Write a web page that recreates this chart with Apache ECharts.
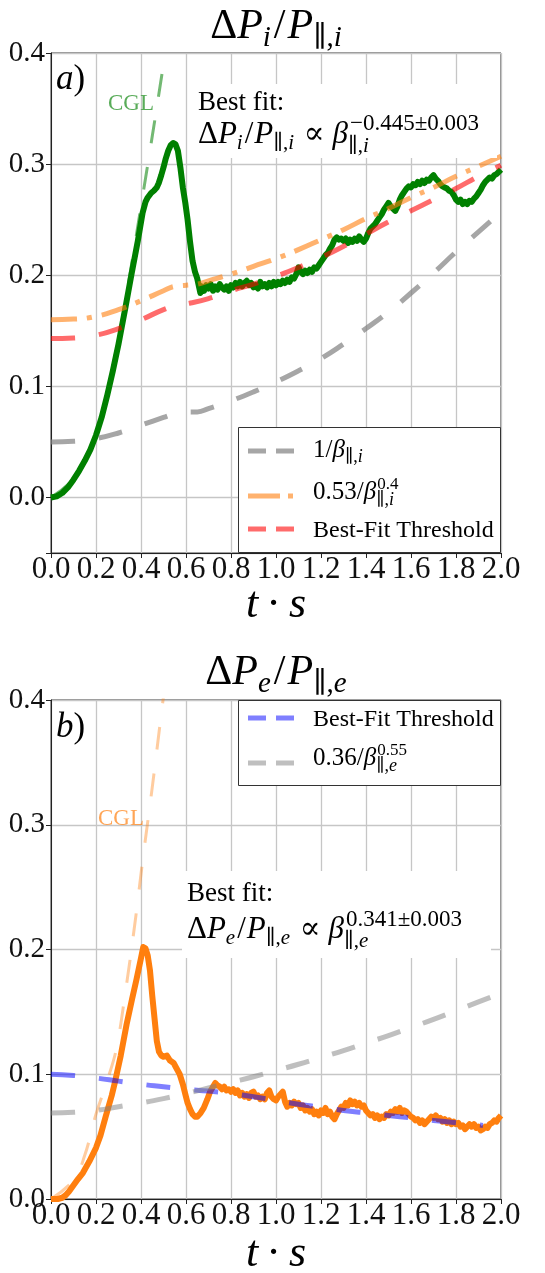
<!DOCTYPE html>
<html>
<head>
<meta charset="utf-8">
<script src="https://cdn.jsdelivr.net/npm/echarts@6/dist/echarts.min.js"></script>
<style>
  html, body { margin: 0; padding: 0; background: #fff; }
  #chart { width: 545px; height: 1273px; }
</style>
</head>
<body>
<div id="chart"></div>
<script>
// ---------- data: time t·s against pressure anisotropy ----------
// Panel (a): ions
const ionAniso = [
  [0,0],[0.025,0.001],[0.05,0.004],[0.075,0.009],[0.1,0.016],[0.125,0.024],[0.15,0.033],[0.175,0.043],
  [0.2,0.056],[0.225,0.072],[0.25,0.092],[0.275,0.114],[0.3,0.138],[0.33,0.17],[0.357,0.2],[0.386,0.231],
  [0.407,0.256],[0.42,0.266],[0.43,0.27],[0.445,0.274],[0.457,0.276],[0.47,0.279],[0.479,0.283],
  [0.49,0.29],[0.5,0.297],[0.51,0.305],[0.521,0.312],[0.532,0.317],[0.543,0.319],[0.553,0.318],
  [0.564,0.312],[0.575,0.297],[0.586,0.279],[0.597,0.265],[0.607,0.25],[0.618,0.23],[0.629,0.213],
  [0.64,0.203],[0.65,0.197],
  [0.664,0.184],[0.67,0.19],[0.68,0.186],[0.69,0.191],[0.7,0.188],[0.71,0.192],[0.72,0.186],[0.73,0.19],
  [0.74,0.187],[0.75,0.192],[0.76,0.189],[0.77,0.187],[0.78,0.19],[0.79,0.186],[0.8,0.191],[0.81,0.189],
  [0.82,0.193],[0.83,0.19],[0.84,0.194],[0.85,0.19],[0.86,0.193],[0.87,0.195],[0.88,0.191],[0.89,0.193],
  [0.9,0.189],[0.91,0.191],[0.92,0.188],[0.93,0.194],[0.94,0.19],[0.95,0.192],[0.96,0.189],[0.97,0.193],
  [0.98,0.19],[0.99,0.194],[1.0,0.191],[1.01,0.194],[1.02,0.192],[1.03,0.195],[1.04,0.193],[1.05,0.196],
  [1.06,0.194],[1.07,0.198],[1.08,0.197],[1.09,0.201],[1.1,0.207],[1.11,0.203],[1.12,0.201],[1.13,0.204],
  [1.14,0.202],[1.15,0.205],[1.16,0.203],[1.17,0.207],[1.18,0.206],[1.19,0.209],[1.2,0.212],[1.21,0.215],
  [1.22,0.218],[1.23,0.22],[1.24,0.224],[1.25,0.227],[1.26,0.232],[1.27,0.234],[1.28,0.232],[1.29,0.233],
  [1.3,0.231],[1.31,0.233],[1.32,0.229],[1.33,0.232],[1.34,0.23],[1.35,0.233],[1.36,0.231],[1.37,0.235],
  [1.38,0.232],[1.39,0.23],[1.4,0.233],[1.41,0.238],[1.42,0.242],[1.43,0.244],[1.44,0.246],[1.45,0.249],
  [1.46,0.252],[1.47,0.255],[1.48,0.259],[1.49,0.262],[1.5,0.265],[1.51,0.262],[1.52,0.26],[1.53,0.258],
  [1.54,0.262],[1.55,0.268],[1.56,0.272],[1.57,0.275],[1.58,0.278],[1.59,0.28],[1.6,0.279],[1.61,0.282],
  [1.62,0.281],[1.63,0.284],[1.64,0.282],[1.65,0.285],[1.66,0.283],[1.67,0.286],[1.68,0.285],[1.69,0.288],
  [1.7,0.29],[1.71,0.287],[1.72,0.285],[1.73,0.282],[1.74,0.28],[1.75,0.279],[1.76,0.278],[1.77,0.276],
  [1.78,0.275],[1.79,0.272],[1.8,0.268],[1.81,0.266],[1.82,0.268],[1.83,0.264],[1.84,0.266],[1.85,0.264],
  [1.86,0.267],[1.87,0.266],[1.88,0.269],[1.89,0.271],[1.9,0.274],[1.91,0.277],[1.92,0.281],[1.93,0.284],
  [1.94,0.286],[1.95,0.288],[1.96,0.287],[1.97,0.29],[1.98,0.291],[1.99,0.293],[2.0,0.295]
];
const ionCGL = [
  [0,0],[0.1,0.017],[0.2,0.056],[0.3,0.143],[0.35,0.2],[0.4,0.262],[0.45,0.325],[0.5,0.39],[0.53,0.43]
];
const ionInvBeta = [
  [0,0.05],[0.1,0.0505],[0.2,0.053],[0.3,0.058],[0.4,0.065],[0.5,0.072],[0.56,0.076],[0.6,0.077],
  [0.65,0.077],[0.7,0.08],[0.8,0.087],[0.9,0.095],[1.0,0.104],[1.1,0.114],[1.2,0.125],[1.3,0.138],
  [1.4,0.152],[1.5,0.167],[1.6,0.184],[1.7,0.202],[1.8,0.221],[1.9,0.239],[2.0,0.257]
];
const ionMarginal = [
  [0,0.16],[0.1,0.1605],[0.2,0.163],[0.3,0.169],[0.4,0.177],[0.5,0.186],[0.55,0.19],[0.6,0.191],
  [0.65,0.192],[0.7,0.195],[0.8,0.201],[0.9,0.208],[1.0,0.215],[1.1,0.223],[1.2,0.232],[1.3,0.241],
  [1.4,0.251],[1.5,0.26],[1.6,0.27],[1.7,0.279],[1.8,0.289],[1.9,0.298],[2.0,0.307]
];
const ionBestFit = [
  [0,0.143],[0.1,0.1435],[0.2,0.146],[0.3,0.152],[0.4,0.16],[0.5,0.169],[0.56,0.173],[0.62,0.175],
  [0.7,0.179],[0.8,0.186],[0.9,0.192],[1.0,0.199],[1.1,0.207],[1.2,0.216],[1.3,0.226],[1.4,0.237],
  [1.5,0.248],[1.6,0.258],[1.7,0.268],[1.8,0.278],[1.9,0.289],[2.0,0.299]
];

// Panel (b): electrons
const eleAniso = [
  [0,0],[0.03,0],[0.05,0.001],[0.065,0.003],[0.08,0.006],[0.1,0.011],[0.12,0.016],[0.142,0.021],
  [0.17,0.03],[0.2,0.041],[0.22,0.051],[0.243,0.066],[0.27,0.083],[0.286,0.095],[0.31,0.115],
  [0.336,0.14],[0.36,0.16],[0.38,0.176],[0.4,0.193],[0.41,0.202],[0.415,0.203],[0.42,0.201],
  [0.43,0.195],[0.44,0.183],[0.45,0.163],[0.46,0.145],[0.47,0.127],[0.48,0.118],[0.49,0.115],
  [0.5,0.114],[0.515,0.115],[0.529,0.111],[0.545,0.109],[0.557,0.105],[0.572,0.1],[0.586,0.092],
  [0.597,0.084],[0.607,0.077],[0.618,0.072],[0.629,0.068],[0.64,0.066],[0.65,0.066],[0.665,0.069],
  [0.679,0.073],[0.695,0.08],[0.707,0.086],
  [0.72,0.09],[0.73,0.093],[0.74,0.091],[0.75,0.09],[0.76,0.088],[0.77,0.09],
  [0.78,0.087],[0.79,0.088],[0.8,0.086],[0.81,0.088],[0.82,0.085],[0.83,0.087],[0.84,0.083],[0.85,0.085],
  [0.86,0.082],[0.87,0.084],[0.88,0.081],[0.89,0.085],[0.9,0.086],[0.91,0.082],[0.92,0.083],[0.93,0.08],
  [0.94,0.082],[0.95,0.08],[0.96,0.085],[0.97,0.087],[0.98,0.082],[0.99,0.08],[1.0,0.079],[1.01,0.082],
  [1.02,0.084],[1.03,0.086],[1.04,0.078],[1.05,0.074],[1.06,0.077],[1.07,0.075],[1.08,0.078],[1.09,0.076],
  [1.1,0.077],[1.11,0.073],[1.12,0.075],[1.13,0.071],[1.14,0.073],[1.15,0.07],[1.16,0.072],[1.17,0.068],
  [1.18,0.07],[1.19,0.067],[1.2,0.071],[1.21,0.069],[1.22,0.073],[1.23,0.068],[1.24,0.07],[1.25,0.066],
  [1.26,0.064],[1.27,0.068],[1.28,0.071],[1.29,0.074],[1.3,0.073],[1.31,0.077],[1.32,0.075],[1.33,0.079],
  [1.34,0.076],[1.35,0.078],[1.36,0.075],[1.37,0.077],[1.38,0.074],[1.39,0.075],[1.4,0.071],[1.41,0.069],
  [1.42,0.067],[1.43,0.068],[1.44,0.065],[1.45,0.067],[1.46,0.064],[1.47,0.066],[1.48,0.065],[1.49,0.068],
  [1.5,0.067],[1.51,0.07],[1.52,0.069],[1.53,0.072],[1.54,0.07],[1.55,0.073],[1.56,0.069],[1.57,0.071],
  [1.58,0.07],[1.59,0.068],[1.6,0.066],[1.61,0.065],[1.62,0.063],[1.63,0.064],[1.64,0.061],[1.65,0.063],
  [1.66,0.06],[1.67,0.062],[1.68,0.064],[1.69,0.066],[1.7,0.065],[1.71,0.067],[1.72,0.064],[1.73,0.065],
  [1.74,0.062],[1.75,0.064],[1.76,0.061],[1.77,0.063],[1.78,0.06],[1.79,0.062],[1.8,0.06],[1.81,0.061],
  [1.82,0.058],[1.83,0.059],[1.84,0.056],[1.85,0.058],[1.86,0.06],[1.87,0.058],[1.88,0.06],[1.89,0.057],
  [1.9,0.058],[1.91,0.055],[1.92,0.056],[1.93,0.058],[1.94,0.057],[1.95,0.06],[1.96,0.061],[1.97,0.063],
  [1.98,0.062],[1.99,0.065],[2.0,0.067]
];
const eleCGL = [
  [0,0],[0.1,0.015],[0.15,0.035],[0.2,0.068],[0.25,0.095],[0.29,0.12],[0.33,0.165],[0.373,0.221],
  [0.41,0.275],[0.45,0.33],[0.5,0.403],[0.52,0.43]
];
const eleBestFit = [
  [0,0.1],[0.1,0.099],[0.2,0.097],[0.3,0.0945],[0.4,0.092],[0.5,0.09],[0.6,0.088],[0.7,0.0865],
  [0.8,0.0845],[0.9,0.082],[1.0,0.079],[1.1,0.076],[1.2,0.0735],[1.3,0.071],[1.4,0.069],[1.5,0.067],
  [1.6,0.065],[1.7,0.063],[1.8,0.0612],[1.92,0.059]
];
const eleMarginal = [
  [0,0.069],[0.1,0.0695],[0.2,0.071],[0.3,0.074],[0.4,0.077],[0.5,0.0805],[0.6,0.0845],[0.7,0.089],
  [0.8,0.0935],[0.9,0.098],[1.0,0.103],[1.1,0.108],[1.2,0.1135],[1.3,0.119],[1.4,0.125],[1.5,0.131],
  [1.6,0.1375],[1.7,0.144],[1.8,0.151],[1.9,0.158],[2.0,0.165]
];

// ---------- text layout helpers (math-style runs with sub/superscripts) ----------
const FAM = '"Liberation Serif", "DejaVu Serif", serif';
const mctx = document.createElement('canvas').getContext('2d');
function midShift(font) {
  mctx.font = font;
  mctx.textBaseline = 'alphabetic';
  const a = mctx.measureText('H').actualBoundingBoxAscent;
  mctx.textBaseline = 'middle';
  const b = mctx.measureText('H').actualBoundingBoxAscent;
  mctx.textBaseline = 'alphabetic';
  return a - b;
}
// runs are laid out left to right; a run flagged `mark` remembers its start,
// a run flagged `atMark` restarts there (stacked sub/superscript) and the group
// closed by `endGroup` continues after the wider of the two stacks.
function mathText(runs, opt) {
  const placed = [];
  let x = 0, mark = 0, pendingEnd = 0;
  for (const r of runs) {
    if (r.mark) mark = x;
    if (r.atMark) { pendingEnd = x; x = mark; }
    x += r.dx || 0;
    const font = (r.it ? 'italic ' : '') + r.size + 'px ' + FAM;
    mctx.font = font;
    const w = mctx.measureText(r.t).width;
    placed.push({ r, font, x });
    x += w;
    if (r.endGroup) x = Math.max(x, pendingEnd);
    x += r.after || 0;
  }
  const shift = opt.align === 'center' ? -x / 2 : 0;
  return placed.map(p => ({
    type: 'text', z: opt.z || 60, silent: true,
    x: opt.x + shift + p.x,
    y: opt.base + (p.r.dy || 0) - midShift(p.font),
    style: {
      text: p.r.t, font: p.font, fill: opt.color || '#000',
      align: 'left', verticalAlign: 'middle', textAlign: 'left', textVerticalAlign: 'middle'
    }
  }));
}
// "∥,s" subscript runs
function parSub(sp, size, dy, stacked) {
  return [
    { t: '∥', size, dy, atMark: !!stacked },
    { t: ',', size, dy },
    { t: sp, it: true, size, dy, endGroup: !!stacked }
  ];
}

// ---------- colours and dash patterns ----------
const C = {
  ion: '#008000',
  ionCGL: 'rgba(0,128,0,0.55)',
  ionInv: 'rgba(128,128,128,0.7)',
  ionMarg: 'rgba(255,127,14,0.6)',
  ionFit: 'rgba(255,0,0,0.58)',
  ele: '#ff7f0e',
  eleCGL: 'rgba(255,127,14,0.4)',
  eleFit: 'rgba(0,0,255,0.5)',
  eleMarg: 'rgba(128,128,128,0.5)'
};
const DASH = [24, 24];
const DASHDOT = [26, 10, 5, 10];
const CGLDASH = [23, 24];
const KEY_DASH = [18, 10];
const KEY_DASHDOT = [32, 8, 5, 8];

// ---------- axes ----------
const GRID_A = { left: 51, top: 53, width: 450, height: 500 };
const GRID_B = { left: 51, top: 700, width: 450, height: 499 };

function xAxisCfg(gi) {
  return {
    type: 'value', gridIndex: gi, min: 0, max: 2, interval: 0.2,
    axisLine: { show: true, onZero: false, lineStyle: { color: '#222', width: 1 } },
    axisTick: { show: true, length: 5, lineStyle: { color: '#222', width: 1 } },
    axisLabel: {
      fontFamily: FAM, fontSize: 31, color: '#111', margin: 1,
      showMinLabel: true, showMaxLabel: true,
      formatter: v => v.toFixed(1)
    },
    splitLine: { show: true, lineStyle: { color: '#c6c6c6', width: 1.3 } }
  };
}
function yAxisCfg(gi, extra) {
  return Object.assign({
    type: 'value', gridIndex: gi, max: 0.4,
    axisLine: { show: true, onZero: false, lineStyle: { color: '#222', width: 1 } },
    axisTick: { show: true, length: 5, lineStyle: { color: '#222', width: 1 } },
    axisLabel: {
      fontFamily: FAM, fontSize: 29, color: '#111', margin: 6,
      showMinLabel: true, showMaxLabel: true,
      formatter: v => (v < -0.001 ? '' : v.toFixed(1))
    },
    splitLine: { show: true, lineStyle: { color: '#c6c6c6', width: 1.3 } }
  }, extra);
}

function lineSeries(data, xi, color, width, dash, smooth, z) {
  return {
    type: 'line', data, xAxisIndex: xi, yAxisIndex: xi,
    symbol: 'none', showSymbol: false, silent: true, animation: false,
    smooth: smooth, clip: true, z: z || 2,
    lineStyle: { color, width, type: dash || 'solid', cap: 'butt', join: 'round' }
  };
}

// ---------- annotations ----------
const g = [];
// titles
g.push(...mathText([
  { t: 'Δ', size: 42 }, { t: 'P', it: true, size: 42 }, { t: 'i', it: true, size: 29, dy: 8, after: 3 },
  { t: '/', size: 42, after: 2 }, { t: 'P', it: true, size: 42 }, ...parSub('i', 29, 8)
], { x: 276, base: 38, align: 'center' }));
g.push(...mathText([
  { t: 'Δ', size: 42 }, { t: 'P', it: true, size: 42 }, { t: 'e', it: true, size: 29, dy: 8, after: 3 },
  { t: '/', size: 42, after: 2 }, { t: 'P', it: true, size: 42 }, ...parSub('e', 29, 8)
], { x: 276, base: 684, align: 'center' }));
// x-axis names
for (const base of [617, 1266]) {
  g.push(...mathText([
    { t: 't', it: true, size: 44, after: 8 }, { t: '·', size: 44, after: 8 }, { t: 's', it: true, size: 44 }
  ], { x: 276, base, align: 'center' }));
}
// panel letters
g.push(...mathText([{ t: 'a', it: true, size: 35 }, { t: ')', size: 35 }], { x: 56, base: 89 }));
g.push(...mathText([{ t: 'b', it: true, size: 35 }, { t: ')', size: 35 }], { x: 56, base: 737 }));
// CGL labels
g.push(...mathText([{ t: 'CGL', size: 23 }], { x: 108, base: 110, color: 'rgba(0,128,0,0.65)' }));
g.push(...mathText([{ t: 'CGL', size: 23 }], { x: 98, base: 825, color: 'rgba(255,127,14,0.7)' }));

// best-fit boxes
g.push({ type: 'rect', z: 50, silent: true, shape: { x: 193, y: 84, width: 304, height: 74 }, style: { fill: '#fff' } });
g.push(...mathText([{ t: 'Best fit:', size: 27 }], { x: 198, base: 110 }));
g.push(...mathText([
  { t: 'Δ', size: 31 }, { t: 'P', it: true, size: 31 }, { t: 'i', it: true, size: 21, dy: 6, after: 2 },
  { t: '/', size: 31, after: 1 }, { t: 'P', it: true, size: 31 }, ...parSub('i', 21, 6),
  { t: ' ∝ ', size: 31, dx: 2 }, { t: 'β', it: true, size: 31 },
  { t: '−0.445±0.003', size: 23, dy: -13, dx: 2, mark: true },
  ...parSub('i', 21, 9, true)
], { x: 198, base: 143 }));

g.push({ type: 'rect', z: 50, silent: true, shape: { x: 182, y: 871, width: 309, height: 87 }, style: { fill: '#fff' } });
g.push(...mathText([{ t: 'Best fit:', size: 27 }], { x: 187, base: 901 }));
g.push(...mathText([
  { t: 'Δ', size: 31 }, { t: 'P', it: true, size: 31 }, { t: 'e', it: true, size: 21, dy: 6, after: 2 },
  { t: '/', size: 31, after: 1 }, { t: 'P', it: true, size: 31 }, ...parSub('e', 21, 6),
  { t: ' ∝ ', size: 31, dx: 2 }, { t: 'β', it: true, size: 31 },
  { t: '0.341±0.003', size: 23, dy: -12, dx: 2, mark: true },
  ...parSub('e', 21, 9, true)
], { x: 187, base: 938 }));

// legends
function legendLine(y, color, dash) {
  return { type: 'line', z: 55, silent: true, shape: { x1: 248, y1: y, x2: 295, y2: y },
    style: { stroke: color, lineWidth: 5, lineDash: dash, lineCap: 'butt' } };
}
g.push({ type: 'rect', z: 50, silent: true, shape: { x: 238.5, y: 427.5, width: 262, height: 125 },
  style: { fill: '#fff', stroke: '#333', lineWidth: 1 } });
g.push(legendLine(451, C.ionInv, KEY_DASH));
g.push(legendLine(496, C.ionMarg, KEY_DASHDOT));
g.push(legendLine(529, C.ionFit, KEY_DASH));
g.push(...mathText([
  { t: '1/', size: 25 }, { t: 'β', it: true, size: 25 }, ...parSub('i', 18, 5)
], { x: 313, base: 457 }));
g.push(...mathText([
  { t: '0.53/', size: 25 }, { t: 'β', it: true, size: 25 },
  { t: '0.4', size: 17, dy: -10, dx: 1, mark: true }, ...parSub('i', 18, 6, true)
], { x: 313, base: 499 }));
g.push(...mathText([{ t: 'Best-Fit Threshold', size: 24 }], { x: 313, base: 537 }));

g.push({ type: 'rect', z: 50, silent: true, shape: { x: 238.5, y: 700.5, width: 262, height: 85 },
  style: { fill: '#fff', stroke: '#333', lineWidth: 1 } });
g.push(legendLine(718, C.eleFit, KEY_DASH));
g.push(legendLine(763, C.eleMarg, KEY_DASH));
g.push(...mathText([{ t: 'Best-Fit Threshold', size: 24 }], { x: 313, base: 726 }));
g.push(...mathText([
  { t: '0.36/', size: 25 }, { t: 'β', it: true, size: 25 },
  { t: '0.55', size: 17, dy: -10, dx: 1, mark: true }, ...parSub('e', 18, 6, true)
], { x: 313, base: 765 }));

// ---------- chart ----------
const chart = echarts.init(document.getElementById('chart'), null, { renderer: 'canvas' });
chart.setOption({
  animation: false,
  backgroundColor: '#fff',
  grid: [
    Object.assign({ show: true, borderColor: '#222', borderWidth: 1, backgroundColor: 'transparent', containLabel: false, outerBoundsMode: 'none' }, GRID_A),
    Object.assign({ show: true, borderColor: '#222', borderWidth: 1, backgroundColor: 'transparent', containLabel: false, outerBoundsMode: 'none' }, GRID_B)
  ],
  xAxis: [xAxisCfg(0), xAxisCfg(1)],
  yAxis: [
    yAxisCfg(0, { min: -0.05, splitNumber: 5 }),
    yAxisCfg(1, { min: 0, interval: 0.1 })
  ],
  series: [
    lineSeries(ionAniso, 0, C.ion, 6, 'solid', false),
    lineSeries(ionCGL, 0, C.ionCGL, 3, CGLDASH, 0.4),
    lineSeries(ionInvBeta, 0, C.ionInv, 5, DASH, 0.5),
    lineSeries(ionMarginal, 0, C.ionMarg, 5, DASHDOT, 0.5),
    lineSeries(ionBestFit, 0, C.ionFit, 5, DASH, 0.5),
    lineSeries(eleAniso, 1, C.ele, 6, 'solid', false),
    lineSeries(eleCGL, 1, C.eleCGL, 3, CGLDASH, 0.4),
    lineSeries(eleBestFit, 1, C.eleFit, 5, DASH, 0.5),
    lineSeries(eleMarginal, 1, C.eleMarg, 5, DASH, 0.5)
  ],
  graphic: { elements: g }
});
</script>
</body>
</html>
